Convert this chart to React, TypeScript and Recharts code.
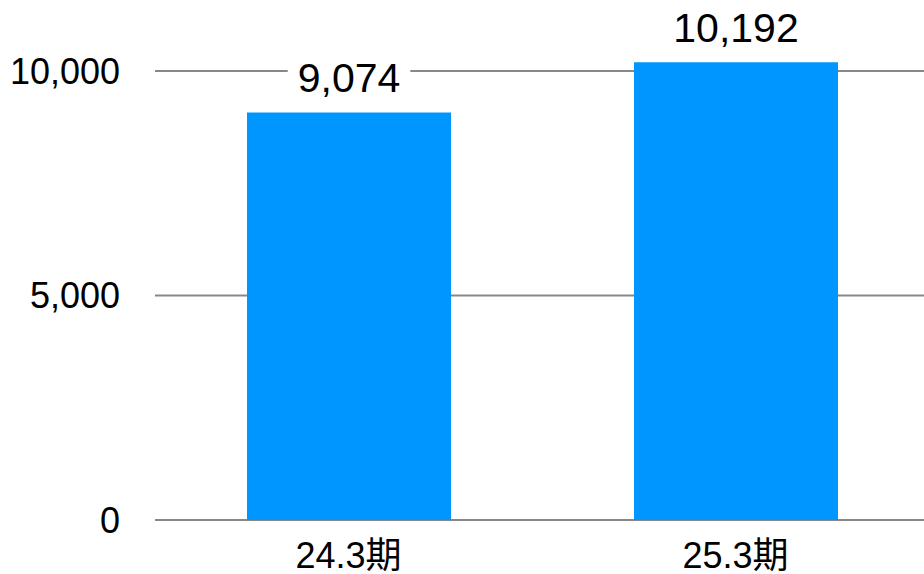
import { BarChart, Bar, XAxis, YAxis, CartesianGrid, LabelList } from 'recharts'

const PERIODS = ['24.3期', '25.3期']
const VALUES = [9074, 10192]
const Y_TICKS = [0, 5000, 10000]
const Y_MAX = 11000

const data = PERIODS.map((period, i) => ({ period, value: VALUES[i] }))

const FONT = "'Liberation Sans', Arial, 'Noto Sans CJK JP', sans-serif"
const fmt = (v: number) => v.toLocaleString('en-US')

// value label with a white box behind it (hides the grid line)
function ValueLabel(props: any) {
  const { x, y, width, value } = props
  const text = fmt(Number(value))
  const fs = 41
  const digits = text.replace(/,/g, '').length
  const commas = text.length - digits
  const tw = digits * 0.556 * fs + commas * 0.278 * fs
  const cx = x + width / 2
  const base = y - 20
  return (
    <g>
      <rect x={cx - tw / 2 - 10} y={base - 36} width={tw + 20} height={46} fill="#fff" />
      <text x={cx} y={base} textAnchor="middle" fontSize={fs} fontFamily={FONT} fill="#000">
        {text}
      </text>
    </g>
  )
}

// grid only at the tick values (no line at the top of the plot)
const gridRows = ({ yAxis, offset }: any) => {
  const s = yAxis && yAxis.scale
  if (typeof s === 'function') return Y_TICKS.map((t) => s(t))
  if (s && typeof s.map === 'function') return Y_TICKS.map((t) => s.map(t))
  return Y_TICKS.map((t) => offset.top + offset.height * (1 - t / Y_MAX))
}

export default function App() {
  return (
    <div style={{ position: 'absolute', left: 0, top: 0, width: 924, height: 574, overflow: 'hidden', background: '#fff' }}>
      <BarChart width={929} height={574} data={data} margin={{ top: 26, right: 0, left: 0, bottom: 0 }}>
        <CartesianGrid vertical={false} stroke="#888" strokeWidth={2} horizontalCoordinatesGenerator={gridRows} />
        <XAxis
          dataKey="period"
          height={54}
          axisLine={false}
          tickLine={false}
          tickMargin={16}
          tick={{ fontSize: 36, fill: '#000', fontFamily: FONT }}
        />
        <YAxis
          width={155}
          domain={[0, Y_MAX]}
          ticks={Y_TICKS}
          axisLine={false}
          tickLine={false}
          tickMargin={29}
          tickFormatter={fmt}
          tick={{ fontSize: 36, fill: '#000', fontFamily: FONT }}
        />
        <Bar dataKey="value" fill="#0096ff" barSize={204} isAnimationActive={false}>
          <LabelList dataKey="value" content={ValueLabel} />
        </Bar>
      </BarChart>
    </div>
  )
}
